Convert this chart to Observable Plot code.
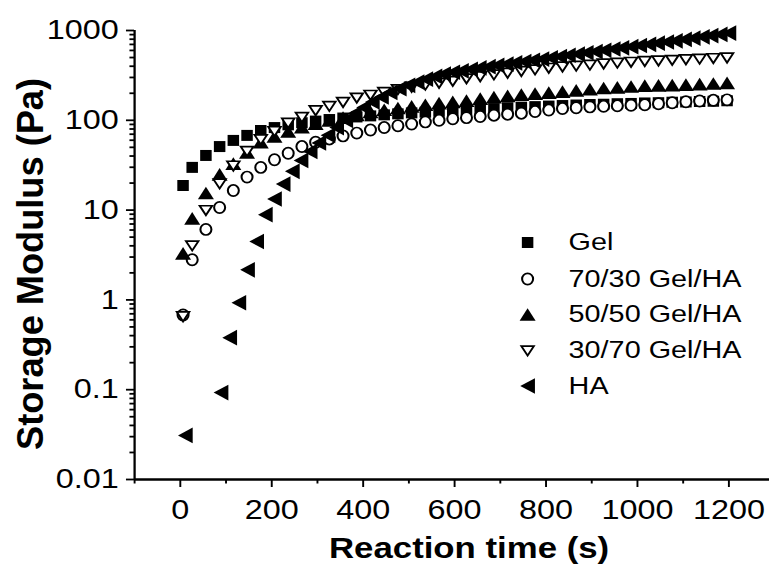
<!DOCTYPE html>
<html><head><meta charset="utf-8">
<script src="https://cdn.jsdelivr.net/npm/d3@7"></script>
<script src="https://cdn.jsdelivr.net/npm/@observablehq/plot@0.6"></script>
<style>html,body{margin:0;padding:0;background:#fff;overflow:hidden}</style>
</head><body><div id="chart"></div>
<script>
// ---- data ----
const times = [6, 26, 56, 86, 116, 146, 176, 206, 236, 266, 296, 326, 356, 386, 416, 446, 476, 506, 536, 566, 596, 626, 656, 686, 716, 746, 776, 806, 836, 866, 896, 926, 956, 986, 1016, 1046, 1076, 1106, 1136, 1166, 1196];
const gel = [18.8, 29.9, 40.6, 51, 59.7, 67.9, 77, 83, 89, 94, 98, 102, 106, 109, 112, 115, 118, 121, 123, 126, 128, 131, 133, 135, 138, 140, 142, 144, 146, 148, 150, 151, 153, 154, 156, 157, 159, 160, 162, 163, 165];
const gel70 = [0.68, 2.8, 6.1, 10.7, 16.5, 23.3, 29.9, 36.4, 43, 51, 57, 62, 67, 72, 78, 83, 87, 91, 96, 100, 104, 107, 110, 114, 117, 120, 125, 130, 135, 138, 141, 143, 145, 147, 149, 153, 157, 161, 164, 167, 169];
const gel50 = [3.3, 8.1, 15.5, 25, 33, 44, 57, 66, 75, 84, 92, 100, 107, 115, 124, 131, 137, 143, 149, 155, 160, 166, 174, 181, 187, 193, 198, 203, 209, 215, 222, 229, 233, 238, 243, 245, 247, 249, 253, 257, 261];
const gel30 = [0.65, 4.0, 9.9, 19.6, 31, 45, 61, 75, 93, 108, 128, 143, 158, 177, 190, 205, 220, 234, 247, 259, 272, 290, 306, 321, 335, 350, 365, 380, 393, 402, 412, 424, 434, 443, 452, 459, 466, 474, 481, 488, 495];
const haTimes = [11, 89, 108, 128, 147, 167, 186, 206, 225, 245, 264, 284, 303, 323, 342, 362, 381, 401, 420, 440, 459, 479, 498, 518, 537, 557, 576, 596, 615, 635, 654, 674, 693, 713, 732, 752, 771, 791, 810, 830, 849, 869, 888, 908, 927, 947, 966, 986, 1005, 1025, 1044, 1064, 1083, 1103, 1122, 1142, 1161, 1181, 1200];
const ha = [0.031, 0.093, 0.38, 0.93, 2.16, 4.47, 8.9, 13.3, 19.5, 27, 35.7, 45, 56, 68, 83, 100, 119, 139, 160, 182, 204, 225, 245, 266, 287, 308, 327, 343, 356, 370, 383, 396, 409, 423, 437, 451, 466, 481, 497, 513, 530, 547, 565, 583, 603, 622, 641, 661, 681, 702, 723, 745, 767, 795, 822, 850, 877, 905, 935];

const seriesNames = ["Gel", "70/30 Gel/HA", "50/50 Gel/HA", "30/70 Gel/HA", "HA"];
const xMajor = [0, 200, 400, 600, 800, 1000, 1200];
const xMinor = [-100, 100, 300, 500, 700, 900, 1100, 1300];
const yMajor = [0.01, 0.1, 1, 10, 100, 1000];
const yMajorLabels = ["0.01", "0.1", "1", "10", "100", "1000"];
const yMinor = yMajor.slice(0, -1).flatMap(d => [2,3,4,5,6,7,8,9].map(k => +(d * k).toPrecision(2)));
const xTitle = "Reaction time (s)";
const yTitle = "Storage Modulus (Pa)";

// ---- layout: the reference is stretched horizontally; draw narrow, stretch the SVG ----
const W = 769, H = 569, W0 = 641, S = W / W0;
const ML = 134 / S, MT = 30, MB = H - 479;

// symbols (final-pixel sizes divided horizontally by S)
const square = {draw(c){ const hw = 5.75/S, hh = 5.5; c.moveTo(-hw,-hh); c.lineTo(hw,-hh); c.lineTo(hw,hh); c.lineTo(-hw,hh); c.closePath(); }};
const circle = {draw(c){ const rx = 5.5/S, ry = 5.6, k = 0.5523;
  c.moveTo(rx,0);
  c.bezierCurveTo(rx, k*ry, k*rx, ry, 0, ry);
  c.bezierCurveTo(-k*rx, ry, -rx, k*ry, -rx, 0);
  c.bezierCurveTo(-rx, -k*ry, -k*rx, -ry, 0, -ry);
  c.bezierCurveTo(k*rx, -ry, rx, -k*ry, rx, 0);
  c.closePath(); }};
const triUp = {draw(c){ c.moveTo(0,-6.35); c.lineTo(8/S,6.35); c.lineTo(-8/S,6.35); c.closePath(); }};
const triDown = {draw(c){ c.moveTo(-6.25/S,-4.75); c.lineTo(6.25/S,-4.75); c.lineTo(0,4.75); c.closePath(); }};
const triLeft = {draw(c){ c.moveTo(-7.35/S,0); c.lineTo(7.35/S,-7.85); c.lineTo(7.35/S,7.85); c.closePath(); }};

const styles = [
  {symbol: square, fill: "black", stroke: "none"},
  {symbol: circle, fill: "white", stroke: "black", strokeWidth: 1.7},
  {symbol: triUp, fill: "black", stroke: "none"},
  {symbol: triDown, fill: "white", stroke: "black", strokeWidth: 1.7},
  {symbol: triLeft, fill: "black", stroke: "none"}
];
const series = [
  {x: times, y: gel},
  {x: times, y: gel70},
  {x: times, y: gel50},
  {x: times, y: gel30},
  {x: haTimes, y: ha}
];

const legendRows = [242, 278.5, 314, 350.3, 385.5];
const legendMarkX = 527 / S - ML;
const legendTextX = 568 / S - ML;

const fam = "Liberation Sans, Arial, Helvetica, sans-serif";

const marks = [];
// axis lines
marks.push(Plot.ruleX([-100], {y1: 0.01, y2: 1000, strokeWidth: 1.9, stroke: "black"}));
marks.push(Plot.ruleY([0.01], {x1: -100, x2: 1300, strokeWidth: 2.3, stroke: "black"}));
// ticks
marks.push(Plot.axisX({ticks: xMinor, anchor: "bottom", tickSize: 4.5, tickFormat: () => "", strokeWidth: 1.6, label: null}));
marks.push(Plot.axisX({ticks: xMajor, anchor: "bottom", tickSize: 8, tickPadding: 12, fontSize: 27, strokeWidth: 1.6, tickFormat: d => String(d), label: null}));
marks.push(Plot.axisY({ticks: yMinor, anchor: "left", tickSize: 3.8, tickFormat: () => "", strokeWidth: 1.8, label: null}));
marks.push(Plot.axisY({ticks: yMajor, anchor: "left", tickSize: 6.7, tickPadding: 6.5, fontSize: 27, strokeWidth: 1.8,
  tickFormat: d => yMajorLabels[yMajor.indexOf(d)], label: null}));
// data
series.forEach((s, i) => marks.push(Plot.dot(s.y, {x: s.x, y: s.y, ...styles[i]})));
// legend
seriesNames.forEach((name, i) => {
  marks.push(Plot.dot([name], {frameAnchor: "top-left", dx: legendMarkX, dy: legendRows[i] - MT, ...styles[i]}));
  marks.push(Plot.text([name], {text: d => d, frameAnchor: "top-left", dx: legendTextX, dy: legendRows[i] - MT,
    textAnchor: "start", lineAnchor: "middle", fontSize: 24, fill: "black"}));
});
// x title
marks.push(Plot.text([xTitle], {text: d => d, frameAnchor: "bottom", dx: 468.5 / S - (ML + W0) / 2, dy: 557 - 479,
  lineAnchor: "bottom", fontSize: 29, fontWeight: "bold", fill: "black"}));

const svg = Plot.plot({
  width: W0, height: H,
  marginLeft: ML, marginRight: 0, marginTop: MT, marginBottom: MB,
  x: {domain: [-100, 1300], range: [ML, 774 / S]},
  y: {type: "log", domain: [0.01, 1000], range: [479, 30]},
  style: {fontFamily: fam, color: "black", background: "white", overflow: "visible"},
  marks
});
svg.setAttribute("width", W);
svg.setAttribute("height", H);
svg.setAttribute("viewBox", `0 0 ${W0} ${H}`);
svg.setAttribute("preserveAspectRatio", "none");
svg.style.maxWidth = "none";
svg.style.width = W + "px";
svg.style.height = H + "px";

// y title (rotated, length fitted to the reference)
const L = 372, yCenter = 264, baseX = 43 / S;
d3.select(svg).append("text")
  .attr("transform", `translate(${baseX},${yCenter}) rotate(-90)`)
  .attr("x", -L / 2)
  .attr("y", 0)
  .attr("text-anchor", "start")
  .style("text-anchor", "start")
  .attr("font-family", fam)
  .attr("font-size", 31)
  .attr("font-weight", "bold")
  .attr("fill", "black")
  .attr("textLength", L)
  .attr("lengthAdjust", "spacingAndGlyphs")
  .text(yTitle);

document.getElementById("chart").appendChild(svg);
</script>
</body></html>
